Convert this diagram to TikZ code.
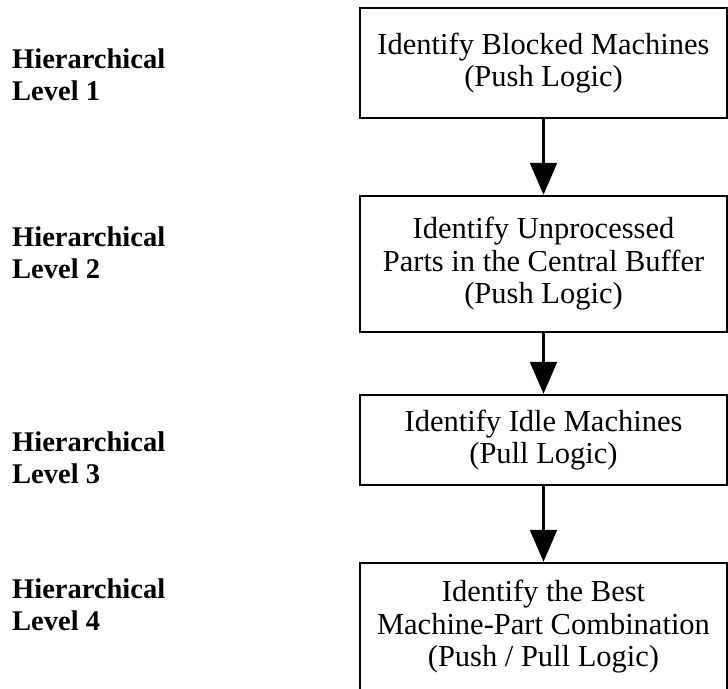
\documentclass[tikz,border=0pt]{standalone}
\usepackage{fontspec}
\setmainfont{Liberation Serif}
\usetikzlibrary{arrows.meta}
\begin{document}
\begin{tikzpicture}[x=1pt,y=-1pt,
stage/.style={draw,line width=2.4pt,minimum width=367pt,align=center,inner sep=0pt,font=\fontsize{30.5}{32.5}\selectfont},
level/.style={anchor=west,align=left,inner sep=0pt,font=\bfseries\fontsize{28.5}{32}\selectfont},
flow/.style={line width=2.2pt,-{Triangle[width=27pt,length=32pt]}}]
\useasboundingbox (0,0) rectangle (728,688);
\node[level] (lev1) at (12,75) {Hierarchical\\Level 1};
\node[level] (lev2) at (12,253) {Hierarchical\\Level 2};
\node[level] (lev3) at (12,458) {Hierarchical\\Level 3};
\node[level] (lev4) at (12,605) {Hierarchical\\Level 4};
\node[stage,minimum height=110pt] (blocked) at (543.5,63) {Identify Blocked Machines\\(Push Logic)};
\node[stage,minimum height=136pt] (buffer) at (543.5,264) {Identify Unprocessed\\Parts in the Central Buffer\\(Push Logic)};
\node[stage,minimum height=90pt] (idle) at (543.5,440) {Identify Idle Machines\\(Pull Logic)};
\node[stage,minimum height=128pt] (best) at (543.5,627) {Identify the Best\\Machine-Part Combination\\(Push / Pull Logic)};
\draw[flow] (blocked) -- (buffer);
\draw[flow] (buffer) -- (idle);
\draw[flow] (idle) -- (best);
\end{tikzpicture}
\end{document}
